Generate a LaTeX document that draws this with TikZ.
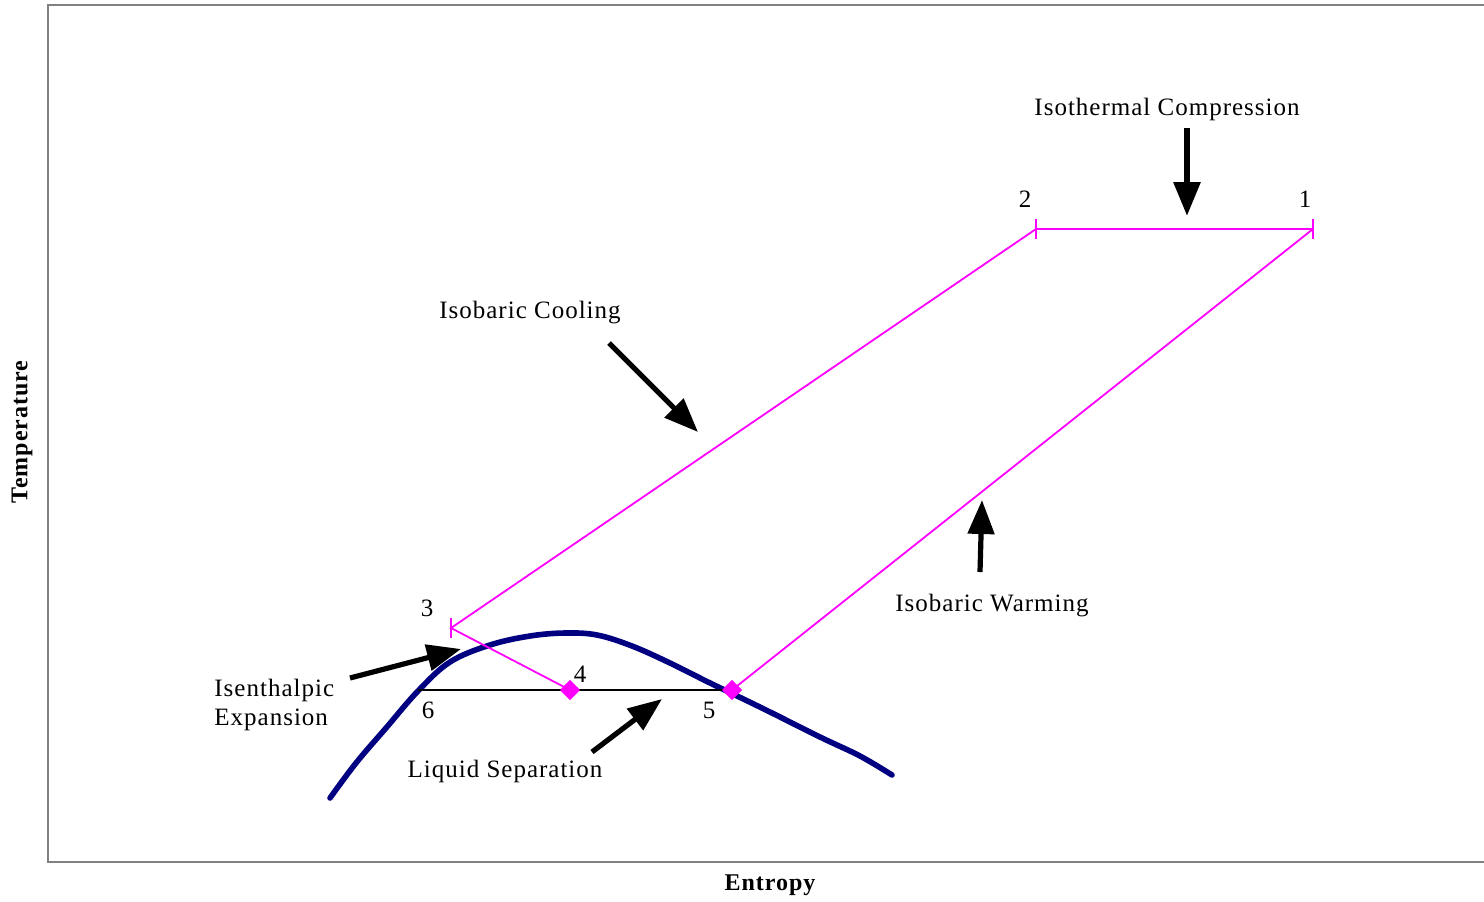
\documentclass[tikz,border=0pt]{standalone}
\usepackage{fontspec}
\setmainfont{Liberation Serif}[LetterSpace=4]
\usetikzlibrary{arrows.meta, shapes.geometric}
\definecolor{cyclemag}{RGB}{255,0,255}
\definecolor{domeblue}{RGB}{0,0,128}

\begin{document}
\begin{tikzpicture}[x=0.5pt, y=-0.5pt, every node/.style={inner sep=0pt, font=\fontsize{12.5}{14.5}\selectfont},
  cycleline/.style={cyclemag, line width=0.9pt},
  callout/.style={line width=2.6pt, -{Triangle[length=17pt,width=13pt]}},
  statept/.style={diamond, fill=cyclemag, minimum size=10pt, inner sep=0pt},
  axislabel/.style={font=\fontsize{12}{14}\selectfont\bfseries}]
\useasboundingbox (0,0) rectangle (1484,901);
% Draw axes
\draw[gray, line width=1pt] (1490,5) -| (48,862) -- (1490,862);
\node[axislabel, rotate=90] (ylabel) at (22,432) {Temperature};
\node[axislabel, anchor=base] (xlabel) at (770,890) {Entropy};
% Draw dome
\draw[domeblue, line width=2.8pt, line cap=round] plot[smooth, tension=0.6] coordinates {(330,798) (356,763) (386,728) (418,691) (450,662) (490,645) (530,636) (565,633) (597,635) (632,646) (670,663) (708,682) (733,694) (770,712) (820,737) (860,756) (892,775)};
% Draw cycle
\coordinate (p1) at (1313,229);
\coordinate (p2) at (1036,229);
\coordinate (p3) at (451,628);
\coordinate (p6) at (418,690);
\node[statept] (p4) at (570,690) {};
\node[statept] (p5) at (732,690) {};
\draw[line width=0.9pt] (p6) -- (p4.center) -- (p5.center);
\draw[cycleline] (p1) -- (p2) -- (p3) -- (p4.center);
\draw[cycleline] (p1) -- (p5.center);
\foreach \p in {p1,p2,p3}
  \draw[cycleline] (\p) ++(0,-10) -- ++(0,20);
\node[statept] at (p4) {};
\node[statept] at (p5) {};
% Draw labels
\node (lbl1) at (1305,199) {1};
\node (lbl2) at (1025,199) {2};
\node (lbl3) at (427,608) {3};
\node (lbl4) at (580,674) {4};
\node (lbl5) at (709,710) {5};
\node (lbl6) at (428,710) {6};
\node[anchor=base] (isotherm) at (1167,115) {Isothermal Compression};
\node[anchor=base] (cooling) at (530,318) {Isobaric Cooling};
\node[anchor=base] (warming) at (992,611) {Isobaric Warming};
\node[anchor=base] (separation) at (505,777) {Liquid Separation};
\node[anchor=north west, align=left] (expansion) at (214,679) {Isenthalpic\\Expansion};
% Draw arrows
\coordinate (isoT-tail) at (1187,128);
\coordinate (isoT-tip) at (1187,216);
\coordinate (cool-tail) at (609,343);
\coordinate (cool-tip) at (698,432);
\coordinate (warm-tail) at (980,572);
\coordinate (warm-tip) at (982,500);
\coordinate (exp-tail) at (350,678);
\coordinate (exp-tip) at (461,649);
\coordinate (sep-tail) at (592,752);
\coordinate (sep-tip) at (662,699);
\draw[callout, line width=3pt] (isoT-tail) -- (isoT-tip);
\draw[callout] (cool-tail) -- (cool-tip);
\draw[callout] (warm-tail) -- (warm-tip);
\draw[callout] (exp-tail) -- (exp-tip);
\draw[callout] (sep-tail) -- (sep-tip);
\end{tikzpicture}
\end{document}
